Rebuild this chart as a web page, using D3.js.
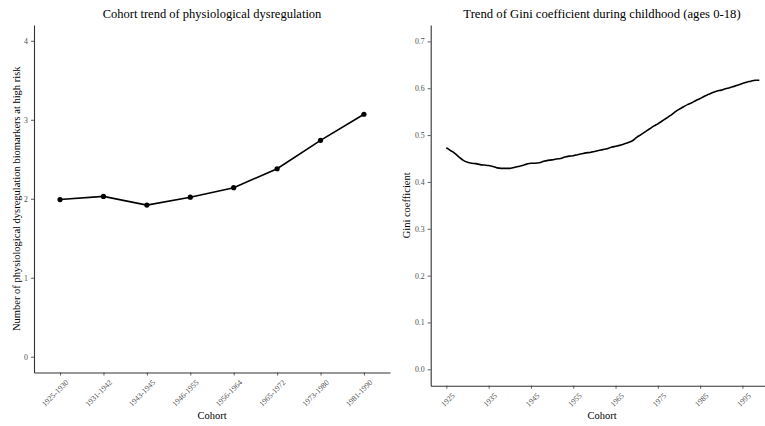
<!DOCTYPE html>
<html><head><meta charset="utf-8">
<script src="https://cdn.jsdelivr.net/npm/d3@7"></script>
<style>
body{margin:0;background:#fff;}
svg{display:block;font-family:"Liberation Serif","Times New Roman",serif;}
</style></head>
<body><svg id="c" width="765" height="426"></svg>
<script>
const cohorts = ["1925-1930","1931-1942","1943-1945","1946-1955","1956-1964","1965-1972","1973-1980","1981-1990"];
const biomarkers = [1.99, 2.03, 1.92, 2.02, 2.14, 2.38, 2.74, 3.07];
const leftYTicks = [0, 1, 2, 3, 4];

const giniYears = d3.range(1925, 2000);
const giniValues = [
0.473,0.467,0.461,0.453,0.446,0.442,0.440,0.439,0.437,0.436,
0.435,0.433,0.430,0.429,0.429,0.429,0.431,0.433,0.435,0.438,
0.440,0.440,0.441,0.444,0.446,0.447,0.449,0.450,0.453,0.455,
0.456,0.458,0.460,0.462,0.463,0.465,0.467,0.469,0.471,0.474,
0.476,0.478,0.481,0.484,0.488,0.495,0.501,0.507,0.513,0.519,
0.524,0.530,0.536,0.542,0.549,0.555,0.560,0.565,0.569,0.574,
0.578,0.583,0.587,0.591,0.594,0.596,0.599,0.601,0.604,0.607,
0.610,0.613,0.615,0.617,0.617];
const rightXTicks = [1925,1935,1945,1955,1965,1975,1985,1995];
const rightYTicks = [0,0.1,0.2,0.3,0.4,0.5,0.6,0.7];

const svg = d3.select("#c");
const axisCol = "#333333", tickTxt = "#4d4d4d";

function styleAxis(g){
  g.select(".domain").attr("stroke", axisCol).attr("stroke-width", 1.1);
  g.selectAll(".tick line").attr("stroke", axisCol).attr("stroke-width", 0.8);
  g.selectAll(".tick text").attr("fill", tickTxt).attr("font-size", 7.8)
   .attr("font-family", "Liberation Serif, serif");
}

// ---- Left panel ----
const L = {x0: 34, x1: 390, y0: 25, y1: 372.5};
const xL = d3.scalePoint().domain(cohorts).range([L.x0, L.x1]).padding(0.6);
const yL = d3.scaleLinear().domain([-0.2, 4.2]).range([L.y1, L.y0]);

const gxL = svg.append("g").attr("transform", `translate(0,${L.y1})`)
  .call(d3.axisBottom(xL).tickSize(3).tickSizeOuter(0));
styleAxis(gxL);
gxL.selectAll(".tick text").attr("text-anchor","end")
  .attr("transform","translate(2,3) rotate(-45)").attr("dy","0.5em").attr("dx","-0.1em");
const gyL = svg.append("g").attr("transform", `translate(${L.x0},0)`)
  .call(d3.axisLeft(yL).tickValues(leftYTicks).tickFormat(d3.format("d")).tickSize(3).tickSizeOuter(0));
styleAxis(gyL);

const lineL = d3.line().x((d,i)=>xL(cohorts[i])).y(d=>yL(d));
svg.append("path").datum(biomarkers).attr("d", lineL)
  .attr("fill","none").attr("stroke","#000").attr("stroke-width",1.6);
svg.append("g").selectAll("circle").data(biomarkers).join("circle")
  .attr("cx",(d,i)=>xL(cohorts[i])).attr("cy",d=>yL(d)).attr("r",2.6).attr("fill","#000");

svg.append("text").attr("x",(L.x0+L.x1)/2).attr("y",18).attr("text-anchor","middle")
  .attr("font-size",12.5).text("Cohort trend of physiological dysregulation");
svg.append("text").attr("x",(L.x0+L.x1)/2).attr("y",419).attr("text-anchor","middle")
  .attr("font-size",10.5).text("Cohort");
svg.append("text").attr("transform",`translate(20,${(L.y0+L.y1)/2}) rotate(-90)`)
  .attr("text-anchor","middle").attr("font-size",10.5)
  .text("Number of physiological dysregulation biomarkers at high risk");

// ---- Right panel ----
const R = {x0: 430.7, x1: 775, y0: 25, y1: 385.7};
const xR = d3.scaleLinear().domain([1925-3.7, 1999+3.7]).range([R.x0, R.x1]);
const yR = d3.scaleLinear().domain([-0.035, 0.735]).range([R.y1, R.y0]);

const gxR = svg.append("g").attr("transform", `translate(0,${R.y1})`)
  .call(d3.axisBottom(xR).tickValues(rightXTicks).tickFormat(d3.format("d")).tickSize(3).tickSizeOuter(0));
styleAxis(gxR);
gxR.selectAll(".tick text").attr("text-anchor","end")
  .attr("transform","translate(2,3) rotate(-45)").attr("dy","0.5em").attr("dx","-0.1em");
const gyR = svg.append("g").attr("transform", `translate(${R.x0},0)`)
  .call(d3.axisLeft(yR).tickValues(rightYTicks).tickFormat(d3.format(".1f")).tickSize(3).tickSizeOuter(0));
styleAxis(gyR);

const lineR = d3.line().x((d,i)=>xR(giniYears[i])).y(d=>yR(d)).curve(d3.curveMonotoneX);
svg.append("path").datum(giniValues).attr("d", lineR)
  .attr("fill","none").attr("stroke","#000").attr("stroke-width",1.6);

svg.append("text").attr("x",602).attr("y",18).attr("text-anchor","middle")
  .attr("font-size",12.7).text("Trend of Gini coefficient during childhood (ages 0-18)");
svg.append("text").attr("x",602).attr("y",419).attr("text-anchor","middle")
  .attr("font-size",10.5).text("Cohort");
svg.append("text").attr("transform",`translate(410,${(R.y0+R.y1)/2}) rotate(-90)`)
  .attr("text-anchor","middle").attr("font-size",10.5).text("Gini coefficient");
</script></body></html>
